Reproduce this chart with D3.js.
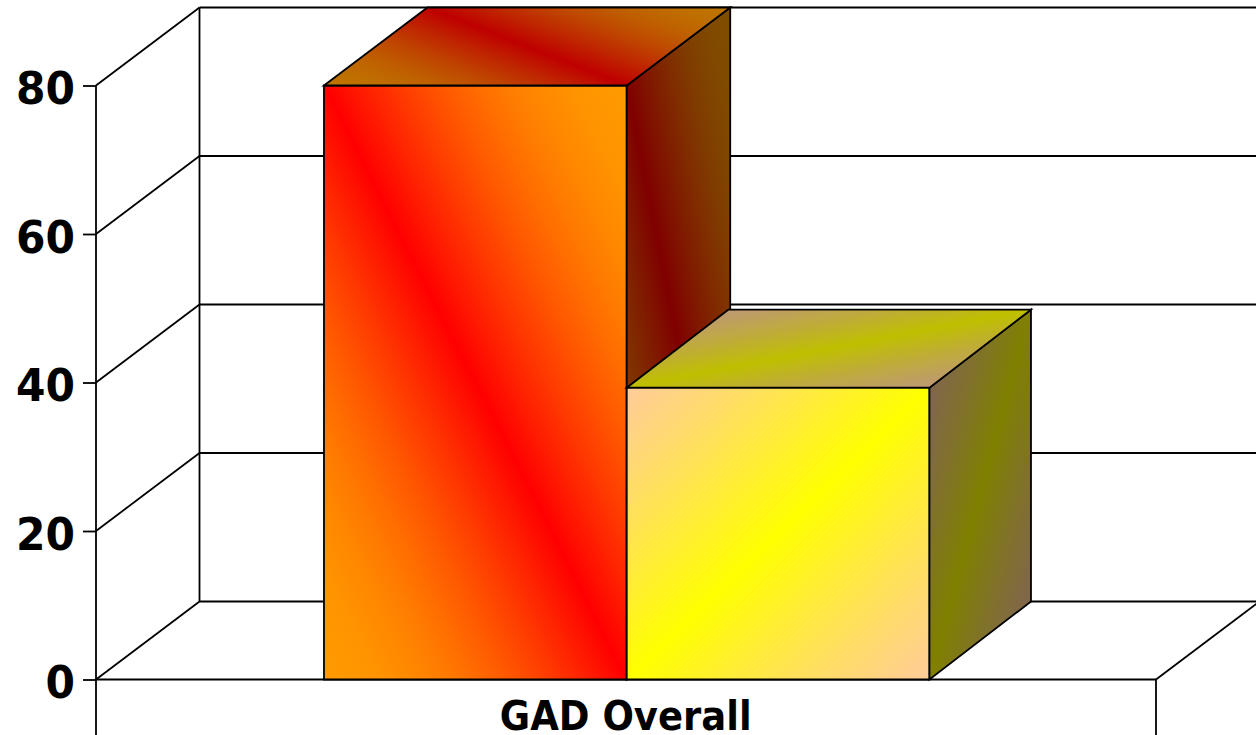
<!DOCTYPE html>
<html><head><meta charset="utf-8">
<script src="https://cdnjs.cloudflare.com/ajax/libs/d3/7.8.5/d3.min.js"></script>
<style>html,body{margin:0;background:#fff;overflow:hidden}svg{display:block}
text{font-family:"DejaVu Sans",sans-serif;font-weight:700;fill:#000}</style>
</head><body><svg id="c" width="1256" height="735"></svg>
<script>
const categories = ["GAD Overall"];
const seriesNames = ["A", "B"];
const seriesValues = [80, 39.3];
const yTicks = [0, 20, 40, 60, 80];
const frontColors = [["#ff9900", "#ff0000"], ["#ffcc99", "#ffff00"]];
const topColors = [["#bf7300", "#bf0000"], ["#bf9973", "#bfbf00"]];
const sideColors = [["#804d00", "#800000"], ["#80664d", "#808000"]];

const svg = d3.select("#c");
const depthX = 103.5, depthY = 78;
const barDepthX = [103.5, 101.5];
const rampSine = [1, 0.2];
const y = d3.scaleLinear().domain([0, 80]).range([679.5, 85.5]);
const x0 = d3.scaleBand().domain(categories).range([96, 1156]).paddingInner(0).paddingOuter(0.3753).align(0.5016);
const x1 = d3.scaleBand().domain(seriesNames).range([x0(categories[0]), x0(categories[0]) + x0.bandwidth()]);
const left = 96, right = 1156, sw = 1.8;
const defs = svg.append("defs");

function line(x1_, y1_, x2_, y2_, w) {
  svg.append("line").attr("x1", x1_).attr("y1", y1_).attr("x2", x2_).attr("y2", y2_)
    .attr("stroke", "#000").attr("stroke-width", w || sw);
}
// back wall + left wall gridlines
yTicks.forEach(t => {
  line(left, y(t), left + depthX, y(t) - depthY);
  line(left + depthX, y(t) - depthY, 1256, y(t) - depthY);
});
line(left + depthX, y(80) - depthY, left + depthX, y(0) - depthY);
// floor front edge and right edge
line(left, y(0), right, y(0));
line(right, y(0), right + depthX, y(0) - depthY);
line(right, y(0), right, 735);

// y axis
const axis = d3.axisLeft(y).tickValues(yTicks).tickSize(13).tickPadding(8);
const gy = svg.append("g").attr("transform", `translate(${left},0)`).call(axis);
gy.select(".domain").remove();
gy.selectAll("line").attr("stroke", "#000").attr("stroke-width", sw);
gy.selectAll("text").attr("font-size", 45).attr("dy", "0.41em")
  .style("font-family", '"DejaVu Sans",sans-serif').style("font-weight", 700)
  .attr("textLength", d => String(d).length * 29.5).attr("lengthAdjust", "spacingAndGlyphs");
line(left, y(80), left, 735);

// a and c take the corner colour; the band runs through b and d; eased ramp between them
function face(pts, colors, id, sine) {
  const [a, b, c, d] = pts;
  let nx = -(d[1] - b[1]), ny = d[0] - b[0];
  const l = Math.hypot(nx, ny); nx /= l; ny /= l;
  const k = (c[0] - a[0]) * nx + (c[1] - a[1]) * ny;
  const g = defs.append("linearGradient").attr("id", id).attr("gradientUnits", "userSpaceOnUse")
    .attr("x1", a[0]).attr("y1", a[1]).attr("x2", a[0] + k * nx).attr("y2", a[1] + k * ny);
  const mix = d3.interpolateRgb(colors[1], colors[0]);
  d3.range(0, 41).forEach(i => {
    const o = i / 40, dist = Math.abs(o - 0.5) * 2;
    g.append("stop").attr("offset", o)
      .attr("stop-color", mix(sine * Math.sin(dist * Math.PI / 2) + (1 - sine) * dist));
  });
  svg.append("polygon").attr("points", pts.map(p => p.join(",")).join(" "))
    .attr("fill", `url(#${id})`).attr("stroke", "#000").attr("stroke-width", sw).attr("stroke-linejoin", "miter");
}

seriesNames.forEach((s, i) => {
  const l = x1(s), r = l + x1.bandwidth(), t = y(seriesValues[i]), b = y(0);
  const dx = barDepthX[i], dy = depthY, e = rampSine[i];
  const FL = [l, b], FR = [r, b], TL = [l, t], TR = [r, t];
  const BTL = [l + dx, t - dy], BTR = [r + dx, t - dy], BBR = [r + dx, b - dy];
  if (i === 0) {
    face([FL, TL, TR, FR], frontColors[i], "f" + i, e);
    face([BTR, TR, FR, BBR], sideColors[i], "s" + i, e);
    face([TL, BTL, BTR, TR], topColors[i], "t" + i, e);
  } else {
    face([TL, FL, FR, TR], frontColors[i], "f" + i, e);
    face([TR, FR, BBR, BTR], sideColors[i], "s" + i, e);
    face([BTL, TL, TR, BTR], topColors[i], "t" + i, e);
  }
});

// category label: taller glyphs condensed to the measured width of the reference
const label = svg.append("text").attr("x", x0(categories[0]) + x0.bandwidth() / 2 - 1).attr("y", 730)
  .attr("text-anchor", "middle").attr("font-size", 37).text(categories[0]);
const labelWidth = label.node().getComputedTextLength();
label.attr("font-size", 41).attr("textLength", labelWidth).attr("lengthAdjust", "spacingAndGlyphs");
</script></body></html>
